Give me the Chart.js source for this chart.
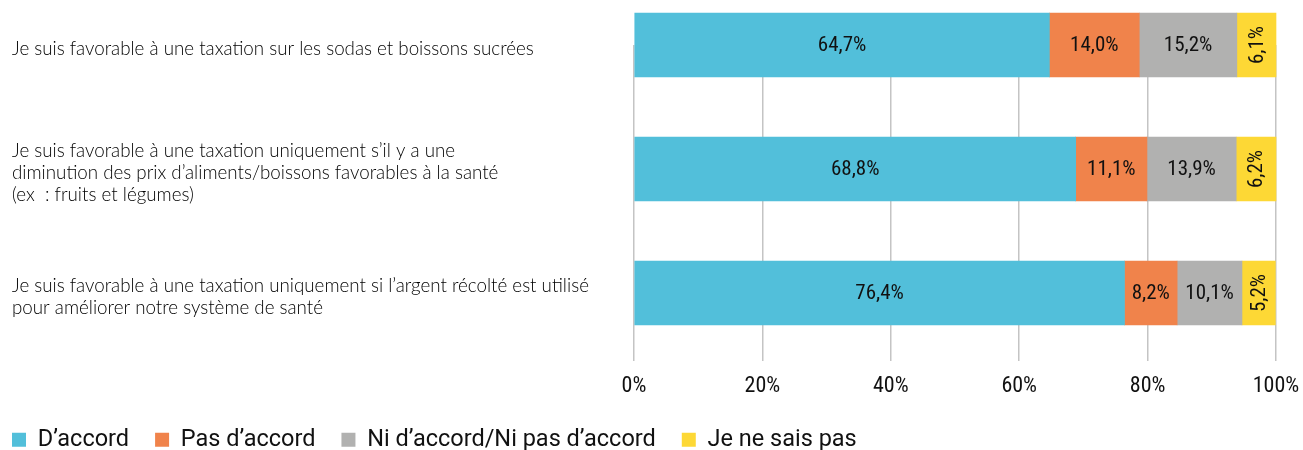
<!DOCTYPE html>
<html lang="fr">
<head>
<meta charset="utf-8">
<title>Taxation sodas</title>
<script src="https://cdn.jsdelivr.net/npm/chart.js@4.4.1/dist/chart.umd.min.js"></script>
<style>
  html, body { margin: 0; padding: 0; background: #fff; }
  #wrap { width: 1303px; height: 450px; position: relative; }
</style>
</head>
<body>
<div id="wrap"><canvas id="chart"></canvas></div>
<script>
// catégories (une ligne par entrée de tableau)
const categories = [
    ['Je suis favorable à une taxation sur les sodas et boissons sucrées'],
    ['Je suis favorable à une taxation uniquement s’il y a une',
     'diminution des prix d’aliments/boissons favorables à la santé',
     '(ex  : fruits et légumes)'],
    ['Je suis favorable à une taxation uniquement si l’argent récolté est utilisé',
     'pour améliorer notre système de santé']
];

const seriesNames = ['D’accord', 'Pas d’accord', 'Ni d’accord/Ni pas d’accord', 'Je ne sais pas'];
const seriesColors = ['#52BFDA', '#F0834B', '#B1B1B0', '#FDD835'];

const daccord = [64.7, 68.8, 76.4];
const pasDaccord = [14.0, 11.1, 8.2];
const niNi = [15.2, 13.9, 10.1];
const nsp = [6.1, 6.2, 5.2];

const xTicks = [0, 20, 40, 60, 80, 100];

const condensed = "'Roboto Condensed', Roboto, sans-serif";
const light = "Lato, 'Open Sans', sans-serif";

const allValues = [daccord, pasDaccord, niNi, nsp];

const valueLabels = {
    id: 'valueLabels',
    afterDatasetsDraw(chart) {
        const ctx = chart.ctx;
        ctx.save();
        ctx.fillStyle = '#111';
        ctx.font = '21px ' + condensed;
        ctx.textAlign = 'center';
        ctx.textBaseline = 'middle';
        chart.data.datasets.forEach((ds, di) => {
            const meta = chart.getDatasetMeta(di);
            meta.data.forEach((bar, i) => {
                const txt = ds.data[i].toFixed(1).replace('.', ',') + '%';
                const cx = (bar.x + bar.base) / 2;
                const cy = bar.y;
                if (di === 3) {
                    ctx.save();
                    ctx.translate(cx, cy);
                    ctx.rotate(-Math.PI / 2);
                    ctx.fillText(txt, 0, 1);
                    ctx.restore();
                } else {
                    ctx.fillText(txt, cx, cy + 1);
                }
            });
        });
        ctx.restore();
    }
};

// décale la légende pour coller au bord gauche
const legendShift = {
    id: 'legendShift',
    afterLayout(chart) {
        if (chart.legend) {
            chart.legend.left = -14;
            chart.legend.top = 402;
        }
    }
};

new Chart(document.getElementById('chart'), {
    type: 'bar',
    data: {
        labels: categories,
        datasets: allValues.map((vals, i) => ({
            label: seriesNames[i],
            data: vals,
            backgroundColor: seriesColors[i],
            borderWidth: 0,
            barThickness: 64,
            clip: false
        }))
    },
    options: {
        indexAxis: 'y',
        responsive: true,
        maintainAspectRatio: false,
        animation: false,
        layout: { padding: { top: 45, right: 27, left: 12, bottom: 0 } },
        scales: {
            x: {
                stacked: true,
                min: 0,
                max: 100,
                afterBuildTicks(scale) {
                    scale.ticks = xTicks.map(v => ({ value: v }));
                },
                afterFit(scale) {
                    scale.height = 117;
                    scale.paddingLeft = 0;
                    scale.paddingRight = 0;
                },
                grid: { color: '#c4c4c4', lineWidth: 1.5, tickLength: 68, drawTicks: true },
                border: { display: false },
                ticks: {
                    padding: 12,
                    color: '#111',
                    font: { family: condensed, size: 22 },
                    callback: v => v + '%'
                }
            },
            y: {
                stacked: true,
                offset: false,
                afterFit(scale) { scale.width = 622; },
                grid: { display: false },
                border: { display: false },
                ticks: {
                    crossAlign: 'far',
                    labelOffset: 4,
                    color: '#000',
                    font: { family: light, size: 18.75, weight: 300, lineHeight: 1.18 }
                }
            }
        },
        plugins: {
            legend: {
                position: 'bottom',
                align: 'start',
                maxHeight: 40,
                labels: {
                    boxWidth: 14,
                    boxHeight: 14,
                    padding: 26,
                    color: '#111',
                    font: { family: 'Roboto, sans-serif', size: 23.5 }
                }
            },
            tooltip: { enabled: false }
        }
    },
    plugins: [valueLabels, legendShift]
});
</script>
</body>
</html>
